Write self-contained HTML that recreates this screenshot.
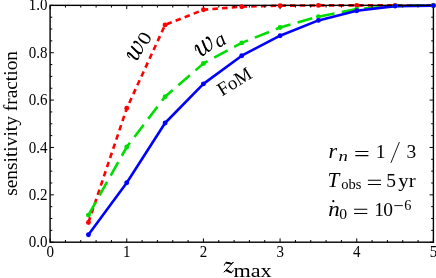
<!DOCTYPE html>
<html><head><meta charset="utf-8">
<style>
html,body{margin:0;padding:0;background:#fff;}
body{width:436px;height:278px;overflow:hidden;font-family:"Liberation Serif",serif;}
svg{display:block;will-change:transform;opacity:0.9999}
text{font-family:"Liberation Serif",serif;fill:#000}
</style></head><body>
<svg width="436" height="278" viewBox="0 0 436 278">
<rect width="436" height="278" fill="#fff"/>
<polyline fill="none" stroke="#ff0000" stroke-width="2.6" stroke-dasharray="5.5,4.22" points="88.43,222.50 126.76,108.30 165.09,24.90 203.42,9.80 241.75,6.70 280.08,5.70 318.41,5.40 356.74,5.40 395.07,5.40 433.40,5.50"/>
<polyline fill="none" stroke="#00dd00" stroke-width="2.6" stroke-dasharray="15.3,7.4" points="88.43,215.10 126.76,147.00 165.09,96.70 203.42,63.50 241.75,42.90 280.08,27.50 318.41,16.60 356.74,9.10 395.07,5.90 433.40,5.50"/>
<polyline fill="none" stroke="#0000ff" stroke-width="2.6" stroke-linejoin="round" points="88.43,234.70 126.76,182.70 165.09,123.00 203.42,83.90 241.75,55.70 280.08,35.70 318.41,20.40 356.74,10.80 395.07,6.10 433.40,5.60"/>
<rect x="50.1" y="5.35" width="383.30" height="236.85" fill="none" stroke="#000" stroke-width="1.4"/>
<g stroke="#000" stroke-width="1.0" fill="none"><path d="M50.10 242.20v-3.80M50.10 5.35v3.80"/><path d="M65.43 242.20v-2.20M65.43 5.35v2.20"/><path d="M80.76 242.20v-2.20M80.76 5.35v2.20"/><path d="M96.10 242.20v-2.20M96.10 5.35v2.20"/><path d="M111.43 242.20v-2.20M111.43 5.35v2.20"/><path d="M126.76 242.20v-3.80M126.76 5.35v3.80"/><path d="M142.09 242.20v-2.20M142.09 5.35v2.20"/><path d="M157.42 242.20v-2.20M157.42 5.35v2.20"/><path d="M172.76 242.20v-2.20M172.76 5.35v2.20"/><path d="M188.09 242.20v-2.20M188.09 5.35v2.20"/><path d="M203.42 242.20v-3.80M203.42 5.35v3.80"/><path d="M218.75 242.20v-2.20M218.75 5.35v2.20"/><path d="M234.08 242.20v-2.20M234.08 5.35v2.20"/><path d="M249.42 242.20v-2.20M249.42 5.35v2.20"/><path d="M264.75 242.20v-2.20M264.75 5.35v2.20"/><path d="M280.08 242.20v-3.80M280.08 5.35v3.80"/><path d="M295.41 242.20v-2.20M295.41 5.35v2.20"/><path d="M310.74 242.20v-2.20M310.74 5.35v2.20"/><path d="M326.08 242.20v-2.20M326.08 5.35v2.20"/><path d="M341.41 242.20v-2.20M341.41 5.35v2.20"/><path d="M356.74 242.20v-3.80M356.74 5.35v3.80"/><path d="M372.07 242.20v-2.20M372.07 5.35v2.20"/><path d="M387.40 242.20v-2.20M387.40 5.35v2.20"/><path d="M402.74 242.20v-2.20M402.74 5.35v2.20"/><path d="M418.07 242.20v-2.20M418.07 5.35v2.20"/><path d="M433.40 242.20v-3.80M433.40 5.35v3.80"/><path d="M50.10 242.20h3.80M433.40 242.20h-3.80"/><path d="M50.10 230.36h2.20M433.40 230.36h-2.20"/><path d="M50.10 218.51h2.20M433.40 218.51h-2.20"/><path d="M50.10 206.67h2.20M433.40 206.67h-2.20"/><path d="M50.10 194.83h3.80M433.40 194.83h-3.80"/><path d="M50.10 182.99h2.20M433.40 182.99h-2.20"/><path d="M50.10 171.14h2.20M433.40 171.14h-2.20"/><path d="M50.10 159.30h2.20M433.40 159.30h-2.20"/><path d="M50.10 147.46h3.80M433.40 147.46h-3.80"/><path d="M50.10 135.62h2.20M433.40 135.62h-2.20"/><path d="M50.10 123.77h2.20M433.40 123.77h-2.20"/><path d="M50.10 111.93h2.20M433.40 111.93h-2.20"/><path d="M50.10 100.09h3.80M433.40 100.09h-3.80"/><path d="M50.10 88.25h2.20M433.40 88.25h-2.20"/><path d="M50.10 76.40h2.20M433.40 76.40h-2.20"/><path d="M50.10 64.56h2.20M433.40 64.56h-2.20"/><path d="M50.10 52.72h3.80M433.40 52.72h-3.80"/><path d="M50.10 40.88h2.20M433.40 40.88h-2.20"/><path d="M50.10 29.03h2.20M433.40 29.03h-2.20"/><path d="M50.10 17.19h2.20M433.40 17.19h-2.20"/><path d="M50.10 5.35h3.80M433.40 5.35h-3.80"/></g>
<g fill="#ff0000"><circle cx="88.43" cy="222.50" r="2.45"/><circle cx="126.76" cy="108.30" r="2.45"/><circle cx="165.09" cy="24.90" r="2.45"/><circle cx="203.42" cy="9.80" r="2.45"/><circle cx="241.75" cy="6.70" r="2.45"/><circle cx="280.08" cy="5.70" r="2.45"/><circle cx="318.41" cy="5.40" r="2.45"/><circle cx="356.74" cy="5.40" r="2.45"/><circle cx="395.07" cy="5.40" r="2.45"/><circle cx="433.40" cy="5.50" r="2.45"/></g>
<g fill="#00dd00"><circle cx="88.43" cy="215.10" r="2.45"/><circle cx="126.76" cy="147.00" r="2.45"/><circle cx="165.09" cy="96.70" r="2.45"/><circle cx="203.42" cy="63.50" r="2.45"/><circle cx="241.75" cy="42.90" r="2.45"/><circle cx="280.08" cy="27.50" r="2.45"/><circle cx="318.41" cy="16.60" r="2.45"/><circle cx="356.74" cy="9.10" r="2.45"/><circle cx="395.07" cy="5.90" r="2.45"/><circle cx="433.40" cy="5.50" r="2.45"/></g>
<g fill="#0000ff"><circle cx="88.43" cy="234.70" r="2.45"/><circle cx="126.76" cy="182.70" r="2.45"/><circle cx="165.09" cy="123.00" r="2.45"/><circle cx="203.42" cy="83.90" r="2.45"/><circle cx="241.75" cy="55.70" r="2.45"/><circle cx="280.08" cy="35.70" r="2.45"/><circle cx="318.41" cy="20.40" r="2.45"/><circle cx="356.74" cy="10.80" r="2.45"/><circle cx="395.07" cy="6.10" r="2.45"/><circle cx="433.40" cy="5.60" r="2.45"/></g>
<g font-size="15.7" text-anchor="end"><text transform="translate(47.5,247.25) scale(0.955,1)">0.0</text><text transform="translate(47.5,199.88) scale(0.955,1)">0.2</text><text transform="translate(47.5,152.51) scale(0.955,1)">0.4</text><text transform="translate(47.5,105.14) scale(0.955,1)">0.6</text><text transform="translate(47.5,57.77) scale(0.955,1)">0.8</text><text transform="translate(47.5,10.40) scale(0.955,1)">1.0</text></g>
<g font-size="15.7" text-anchor="middle"><text transform="translate(50.20,257.1) scale(0.955,1)">0</text><text transform="translate(126.86,257.1) scale(0.955,1)">1</text><text transform="translate(203.52,257.1) scale(0.955,1)">2</text><text transform="translate(280.18,257.1) scale(0.955,1)">3</text><text transform="translate(356.84,257.1) scale(0.955,1)">4</text><text transform="translate(433.50,257.1) scale(0.955,1)">5</text></g>
<text font-size="19.4" transform="translate(17,123.4) rotate(-90)" text-anchor="middle">sensitivity fraction</text>
<g fill="none" stroke="#000" stroke-linecap="round" stroke-linejoin="round"><path stroke-width="0.95" d="M224.3,265.2 C224.8,263.5 225.8,262.3 227,262.3 C228.6,262.3 229.6,263.6 231,263.6 C232,263.6 232.8,263 233.4,262 L224,272.2 C224.8,271 225.8,270.2 227,270.2 C228.6,270.2 229.6,272.6 231,272.6 C232.2,272.6 233,271.4 233.3,270.2"/><path stroke-width="1.9" d="M226.6,262.7 C228.4,262.7 229.4,263.7 231,263.6 M226.8,270.5 C228.6,270.7 229.4,272.4 231,272.4"/></g><text transform="translate(233.4,276.8) scale(1.2,1)" font-size="18.5">max</text>
<g transform="translate(135.6,62.2) rotate(-58)"><g transform="scale(0.0262)" fill="none" stroke="#000" stroke-linecap="round" stroke-linejoin="round"><path d="M 30,-290 C 50,-380 90,-442 130,-442 C 165,-442 170,-400 160,-350 L 115,-150 C 100,-60 130,10 200,10 C 270,10 330,-80 360,-180 L 425,-440 L 375,-210 C 350,-80 380,10 460,10 C 550,10 640,-120 665,-260 C 680,-340 678,-410 650,-440 C 635,-455 615,-455 603,-440" stroke-width="36"/><path d="M 150,-425 C 165,-400 160,-350 150,-300 L 115,-150 C 105,-90 115,-30 150,-5 M 425,-440 L 375,-210 C 360,-130 365,-50 400,-10 M 668,-340 C 674,-385 670,-420 650,-440 C 636,-453 618,-453 606,-441" stroke-width="72"/></g><text transform="translate(19.4,0.9) scale(1.18,1)" font-size="19">0</text></g>
<g transform="translate(199.9,57.4) rotate(-35)"><g transform="scale(0.0272)" fill="none" stroke="#000" stroke-linecap="round" stroke-linejoin="round"><path d="M 30,-290 C 50,-380 90,-442 130,-442 C 165,-442 170,-400 160,-350 L 115,-150 C 100,-60 130,10 200,10 C 270,10 330,-80 360,-180 L 425,-440 L 375,-210 C 350,-80 380,10 460,10 C 550,10 640,-120 665,-260 C 680,-340 678,-410 650,-440 C 635,-455 615,-455 603,-440" stroke-width="36"/><path d="M 150,-425 C 165,-400 160,-350 150,-300 L 115,-150 C 105,-90 115,-30 150,-5 M 425,-440 L 375,-210 C 360,-130 365,-50 400,-10 M 668,-340 C 674,-385 670,-420 650,-440 C 636,-453 618,-453 606,-441" stroke-width="72"/></g></g><g transform="translate(199.3,56.6) rotate(-32)"><text x="20.9" y="3.1" font-size="21" font-style="italic">a</text></g>
<text font-size="19" transform="translate(221.9,96.5) rotate(-31.5)">FoM</text>
<text transform="translate(328.40,158.20) scale(1.1,1)" font-size="20" font-style="italic">r</text>
<text transform="translate(338.60,160.90) scale(1.3,1)" font-size="14.5" font-style="italic">n</text>
<path d="M355.30 151.50H368.40M355.30 155.60H368.40" stroke="#000" stroke-width="1.05" fill="none"/>
<text transform="translate(380.60,158.20) scale(1.0,1)" font-size="19.5" text-anchor="middle">1</text>
<path d="M390.9 162.9L399.4 142" stroke="#000" stroke-width="0.9" fill="none"/>
<text transform="translate(411.30,158.20) scale(1.0,1)" font-size="19.5" text-anchor="middle">3</text>
<text transform="translate(327.60,187.40) scale(1.06,1)" font-size="20" font-style="italic">T</text>
<text transform="translate(341.20,189.40) scale(1.07,1)" font-size="13.6">obs</text>
<path d="M367.90 180.30H381.00M367.90 184.40H381.00" stroke="#000" stroke-width="1.05" fill="none"/>
<text transform="translate(391.00,187.40) scale(1.0,1)" font-size="19.5" text-anchor="middle">5</text>
<text transform="translate(398.30,187.40) scale(1.12,1)" font-size="18.6">y</text>
<text transform="translate(408.80,187.40) scale(1.12,1)" font-size="18.6">r</text>
<text transform="translate(328.20,215.80) scale(1.15,1)" font-size="20" font-style="italic">n</text>
<circle cx="333.3" cy="201.2" r="1.1" fill="#000"/>
<text transform="translate(343.20,219.30) scale(1.08,1)" font-size="14.5" text-anchor="middle">0</text>
<path d="M354.10 209.30H367.30M354.10 213.40H367.30" stroke="#000" stroke-width="1.05" fill="none"/>
<text transform="translate(379.00,215.80) scale(1.0,1)" font-size="19.5" text-anchor="middle">1</text>
<text transform="translate(388.20,215.80) scale(1.0,1)" font-size="19.5" text-anchor="middle">0</text>
<path d="M394.3 205.6H402.8" stroke="#000" stroke-width="0.9" fill="none"/>
<text transform="translate(407.80,210.20) scale(1.0,1)" font-size="14.3" text-anchor="middle">6</text>
</svg>
</body></html>
